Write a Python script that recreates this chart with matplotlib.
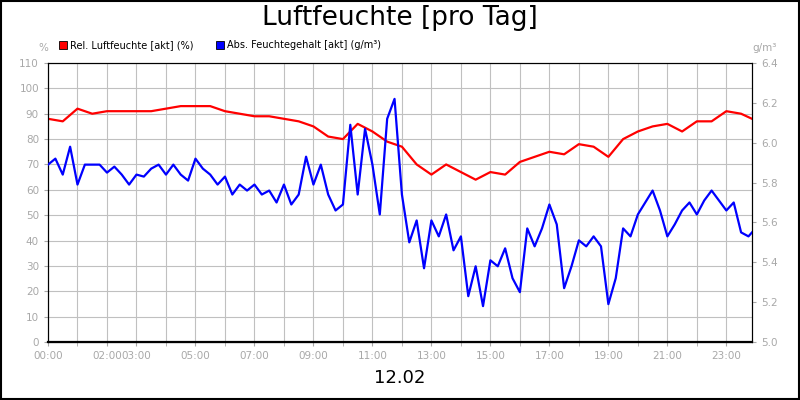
import matplotlib
matplotlib.use('Agg')
import matplotlib.pyplot as plt
import numpy as np

# relative humidity (%), every 30 min
rel_t = list(np.arange(0, 24, 0.5)) + [23.87]
rel_h = [88, 87, 92, 90, 91, 91, 91, 91, 92, 93, 93, 93, 91, 90, 89, 89,
         88, 87, 85, 81, 80, 86, 83, 79, 77, 70, 66, 70, 67, 64, 67, 66,
         71, 73, 75, 74, 78, 77, 73, 80, 83, 85, 86, 83, 87, 87, 91, 90, 88]

# absolute humidity (g/m3), every 15 min
abs_t = list(np.arange(0, 24, 0.25)) + [23.87]
abs_h = [5.89, 5.92, 5.84, 5.98, 5.79, 5.89, 5.89, 5.89, 5.85, 5.88, 5.84, 5.79,
         5.84, 5.83, 5.87, 5.89, 5.84, 5.89, 5.84, 5.81, 5.92, 5.87, 5.84, 5.79,
         5.83, 5.74, 5.79, 5.76, 5.79, 5.74, 5.76, 5.70, 5.79, 5.69, 5.74, 5.93,
         5.79, 5.89, 5.74, 5.66, 5.69, 6.09, 5.74, 6.07, 5.89, 5.64, 6.12, 6.22,
         5.74, 5.50, 5.61, 5.37, 5.61, 5.53, 5.64, 5.46, 5.53, 5.23, 5.38, 5.18,
         5.41, 5.38, 5.47, 5.32, 5.25, 5.57, 5.48, 5.57, 5.69, 5.59, 5.27, 5.38,
         5.51, 5.48, 5.53, 5.48, 5.19, 5.32, 5.57, 5.53, 5.64, 5.70, 5.76, 5.66,
         5.53, 5.59, 5.66, 5.70, 5.64, 5.71, 5.76, 5.71, 5.66, 5.70, 5.55, 5.53, 5.55]

tick_pos = [0, 2, 3, 5, 7, 9, 11, 13, 15, 17, 19, 21, 23]
tick_lab = ['00:00', '02:00', '03:00', '05:00', '07:00', '09:00', '11:00',
            '13:00', '15:00', '17:00', '19:00', '21:00', '23:00']

gray = '#a8a8a8'
fig = plt.figure(figsize=(8, 4), dpi=100)
ax = fig.add_axes([0.06, 0.145, 0.88, 0.6975])
ax.plot(rel_t, rel_h, color='#ff0000', lw=1.6, zorder=3)
ax.set_xlim(0, 23.87)
ax.set_ylim(0, 110)
ax.set_yticks(range(0, 111, 10))
ax.set_xticks(tick_pos, tick_lab)
ax.set_xticks(range(0, 24), minor=True)
ax.grid(True, which='both', color='#c0c0c0', lw=0.8)
ax.tick_params(colors=gray, labelsize=7.5, labelcolor=gray, length=3)
ax.tick_params(which='minor', length=3, color=gray)
for s in ['top', 'right', 'left']:
    ax.spines[s].set_color('black')
ax.spines['bottom'].set_linewidth(1.6)

ax2 = ax.twinx()
ax2.plot(abs_t, abs_h, color='#0000ff', lw=1.6, zorder=3)
ax2.set_ylim(5.0, 6.4)
ax2.set_yticks(np.arange(5.0, 6.41, 0.2))
ax2.set_yticklabels([f'{v:.1f}' for v in np.arange(5.0, 6.41, 0.2)])
ax2.tick_params(colors=gray, labelsize=7.5, labelcolor=gray, length=3)

fig.text(0.5, 0.955, 'Luftfeuchte [pro Tag]', ha='center', va='center', fontsize=19)
fig.text(0.5, 0.055, '12.02', ha='center', va='center', fontsize=13)
fig.text(0.048, 0.88, '%', ha='left', va='center', fontsize=7.5, color=gray)
fig.text(0.94, 0.88, 'g/m³', ha='left', va='center', fontsize=7.5, color=gray)

fig.patches.append(plt.Rectangle((0.074, 0.877), 0.01, 0.02, transform=fig.transFigure,
                                 facecolor='#ff0000', edgecolor='black', lw=0.6))
fig.text(0.088, 0.887, 'Rel. Luftfeuchte [akt] (%)', va='center', fontsize=7)
fig.patches.append(plt.Rectangle((0.27, 0.877), 0.01, 0.02, transform=fig.transFigure,
                                 facecolor='#0000ff', edgecolor='black', lw=0.6))
fig.text(0.284, 0.887, 'Abs. Feuchtegehalt [akt] (g/m³)', va='center', fontsize=7)

fig.patches.append(plt.Rectangle((0.001, 0.002), 0.998, 0.996, transform=fig.transFigure,
                                 fill=False, edgecolor='black', lw=1.5))
fig.savefig('out.png', dpi=100)
